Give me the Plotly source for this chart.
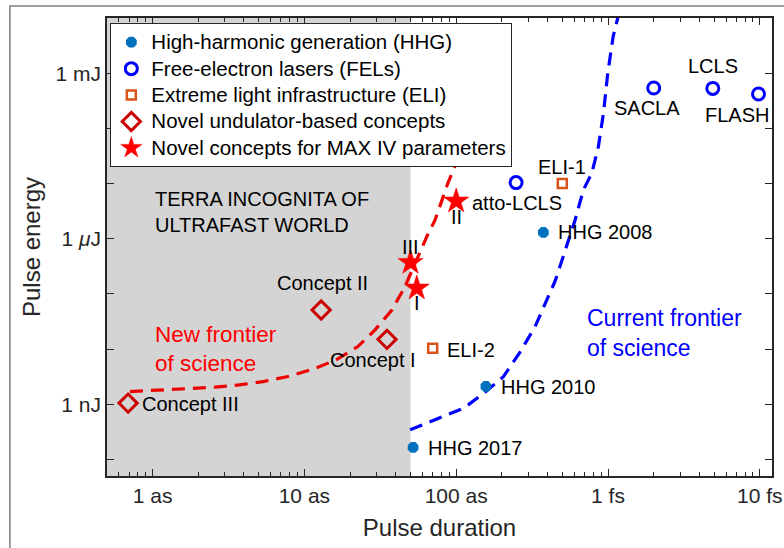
import plotly.graph_objects as go
import numpy as np

AS = 1e-18
NJ = 1e-9

# ---- data (durations in attoseconds, energies in nJ) ----
hhg_labels = ["HHG 2008", "HHG 2010", "HHG 2017"]
hhg_dur_as = [375, 157, 52]
hhg_energy_nj = [1300, 2.1, 0.165]

fel_labels = ["SACLA", "LCLS", "FLASH", "atto-LCLS"]
fel_dur_as = [2000, 4900, 9800, 248]
fel_energy_nj = [540000, 530000, 420000, 10400]

eli_labels = ["ELI-1", "ELI-2"]
eli_dur_as = [500, 70]
eli_energy_nj = [10000, 10.4]

und_labels = ["Concept I", "Concept II", "Concept III"]
und_dur_as = [35, 12.9, 0.69]
und_energy_nj = [15, 51, 1.05]

max_labels = ["I", "II", "III"]
max_dur_as = [55, 100, 50]
max_energy_nj = [127, 4800, 370]

# frontier curves
new_front_dur_as = [0.71, 1.12, 1.71, 2.58, 3.72, 5.35, 7.8, 11.4, 16.2, 22.5,
                    29.2, 37.7, 46.0, 55, 64, 72.6, 88.3, 101, 111]
new_front_energy_nj = [1.70, 1.82, 1.96, 2.04, 2.24, 2.58, 3.18, 4.33, 6.37, 11.1,
                       22.3, 51, 136, 413, 1090, 2190, 10300, 24900, 62000]

cur_front_dur_as = [49.7, 78.4, 113, 153, 204, 264, 331, 395, 448, 521, 607, 688,
                    782, 864, 933, 996, 1080, 1160]
cur_front_energy_nj = [0.344, 0.568, 0.861, 1.61, 3.13, 8.89, 25.6, 77.8, 170,
                       600, 2190, 7660, 15400, 46500, 188000, 996000, 4580000, 10100000]

terra_limit_as = 50

x_tick_vals = [1e-18, 1e-17, 1e-16, 1e-15, 1e-14]
x_tick_text = ["1 as", "10 as", "100 as", "1 fs", "10 fs"]
y_tick_vals = [10.0 ** k for k in range(-10, -1)]
y_tick_text = ["", "1 nJ", "", "", "1 <i>\u03bc</i>J", "", "", "1 mJ", ""]

legend_names = ["High-harmonic generation (HHG)", "Free-electron lasers (FELs)",
                "Extreme light infrastructure (ELI)", "Novel undulator-based concepts",
                "Novel concepts for MAX IV parameters"]

FONT = "Liberation Sans, Arial, Helvetica, sans-serif"


def sx(v_as):
    return [v * AS for v in v_as]


def sy(v_nj):
    return [v * NJ for v in v_nj]


def lname(s):
    return '<span style="font-size:20.5px">' + s + '</span>'


fig = go.Figure()

fig.add_trace(go.Scatter(x=sx(new_front_dur_as), y=sy(new_front_energy_nj), mode="lines",
                         line=dict(color="#EE0000", width=3.2, dash="13px,8px"),
                         showlegend=False, hoverinfo="skip"))
fig.add_trace(go.Scatter(x=sx(cur_front_dur_as), y=sy(cur_front_energy_nj), mode="lines",
                         line=dict(color="#0000FF", width=3.2, dash="13px,8px"),
                         showlegend=False, hoverinfo="skip"))

fig.add_trace(go.Scatter(x=sx(hhg_dur_as), y=sy(hhg_energy_nj), mode="markers",
                         name=lname(legend_names[0]),
                         marker=dict(symbol="octagon", size=10, color="#0072BD",
                                     line=dict(color="#0072BD", width=1.5))))
fig.add_trace(go.Scatter(x=sx(fel_dur_as), y=sy(fel_energy_nj), mode="markers",
                         name=lname(legend_names[1]),
                         marker=dict(symbol="circle-open", size=12, color="#0000FF",
                                     line=dict(color="#0000FF", width=3))))
fig.add_trace(go.Scatter(x=sx(eli_dur_as), y=sy(eli_energy_nj), mode="markers",
                         name=lname(legend_names[2]),
                         marker=dict(symbol="square-open", size=9, color="#D95319",
                                     line=dict(color="#D95319", width=2.5))))
fig.add_trace(go.Scatter(x=sx(und_dur_as), y=sy(und_energy_nj), mode="markers",
                         name=lname(legend_names[3]),
                         marker=dict(symbol="diamond-open", size=14, color="#CC0000",
                                     line=dict(color="#CC0000", width=3))))
fig.add_trace(go.Scatter(x=sx(max_dur_as), y=sy(max_energy_nj), mode="markers",
                         name=lname(legend_names[4]),
                         marker=dict(symbol="star", size=19, color="#FF0000",
                                     line=dict(color="#FF0000", width=0.5))))

# gray region
fig.add_shape(type="rect", xref="x", yref="paper", x0=1e-20, x1=terra_limit_as * AS,
              y0=0, y1=1, fillcolor="#D4D4D4", line=dict(width=0), layer="below")

# outer figure border (only top and left visible)
fig.add_shape(type="rect", xref="paper", yref="paper", x0=-0.146, x1=1.2, y0=-0.3, y1=1.026,
              line=dict(color="#808080", width=1.5), fillcolor="rgba(0,0,0,0)")

lg = np.log10
labels = [
    ("SACLA", 1810, 234000, "center"),
    ("LCLS", 4920, 1350000, "center"),
    ("FLASH", 7080, 175000, "center"),
    ("ELI-1", 498, 20000, "center"),
    ("atto-LCLS", 123, 4460, "left"),
    ("II", 99.8, 2480, "center"),
    ("HHG 2008", 455, 1330, "left"),
    ("III", 49.7, 710, "center"),
    ("I", 55.2, 68.7, "center"),
    ("ELI-2", 84.5, 9.7, "left"),
    ("Concept I", 14.3, 6.37, "left"),
    ("Concept II", 6.4, 158, "left"),
    ("Concept III", 0.826, 1.016, "left"),
    ("HHG 2010", 191, 2.07, "left"),
    ("HHG 2017", 63.2, 0.162, "left"),
]
for t, xa, yn, anc in labels:
    fig.add_annotation(x=lg(xa * AS), y=lg(yn * NJ), text=t, showarrow=False,
                       xanchor=anc, yanchor="middle",
                       font=dict(family=FONT, size=20, color="black"))

fig.add_annotation(x=lg(1.007 * AS), y=lg(2990 * NJ),
                   text="TERRA INCOGNITA OF<br>ULTRAFAST WORLD", showarrow=False,
                   xanchor="left", yanchor="middle", align="left",
                   font=dict(family=FONT, size=20, color="black"))
fig.add_annotation(x=lg(1.0 * AS), y=lg(10.0 * NJ),
                   text="New frontier<br>of science", showarrow=False,
                   xanchor="left", yanchor="middle", align="left",
                   font=dict(family=FONT, size=22.5, color="#FF0000"))
fig.add_annotation(x=lg(700 * AS), y=lg(19.6 * NJ),
                   text="Current frontier<br>of science", showarrow=False,
                   xanchor="left", yanchor="middle", align="left",
                   font=dict(family=FONT, size=23, color="#0000FF"))

minor_x = [m * 10.0 ** e for e in range(-19, -13) for m in range(2, 10)]

axis_common = dict(showline=True, linecolor="#262626", linewidth=1.5, mirror="ticks",
                   ticks="inside", tickcolor="#262626", tickwidth=1, ticklen=7,
                   showgrid=False, zeroline=False, automargin=False,
                   tickfont=dict(family=FONT, size=21, color="#262626"))

fig.update_xaxes(type="log", range=[-18.3, -13.92], tickmode="array",
                 tickvals=x_tick_vals, ticktext=x_tick_text,
                 minor=dict(tickmode="array", tickvals=minor_x, ticks="inside",
                            ticklen=4, tickcolor="#262626", tickwidth=1, showgrid=False),
                 title=dict(text="Pulse duration", font=dict(family=FONT, size=24, color="#262626"),
                            standoff=13),
                 **axis_common)
fig.update_yaxes(type="log", range=[-10.3, -2.0], tickmode="array",
                 tickvals=y_tick_vals, ticktext=y_tick_text,
                 title=dict(text="Pulse energy", font=dict(family=FONT, size=24, color="#262626"),
                            standoff=8),
                 **axis_common)

fig.update_layout(
    width=784, height=548,
    margin=dict(l=107, r=12, t=18, b=72, autoexpand=False),
    plot_bgcolor="white", paper_bgcolor="white",
    showlegend=True,
    legend=dict(x=0.005, y=0.989, xanchor="left", yanchor="top",
                bgcolor="white", bordercolor="#262626", borderwidth=1,
                font=dict(family=FONT, size=18, color="black"),
                itemwidth=30, tracegroupgap=0),
)

fig.write_html("out.html", config={"displayModeBar": False},
               post_script="document.body.style.margin='0';document.body.style.padding='0';")
